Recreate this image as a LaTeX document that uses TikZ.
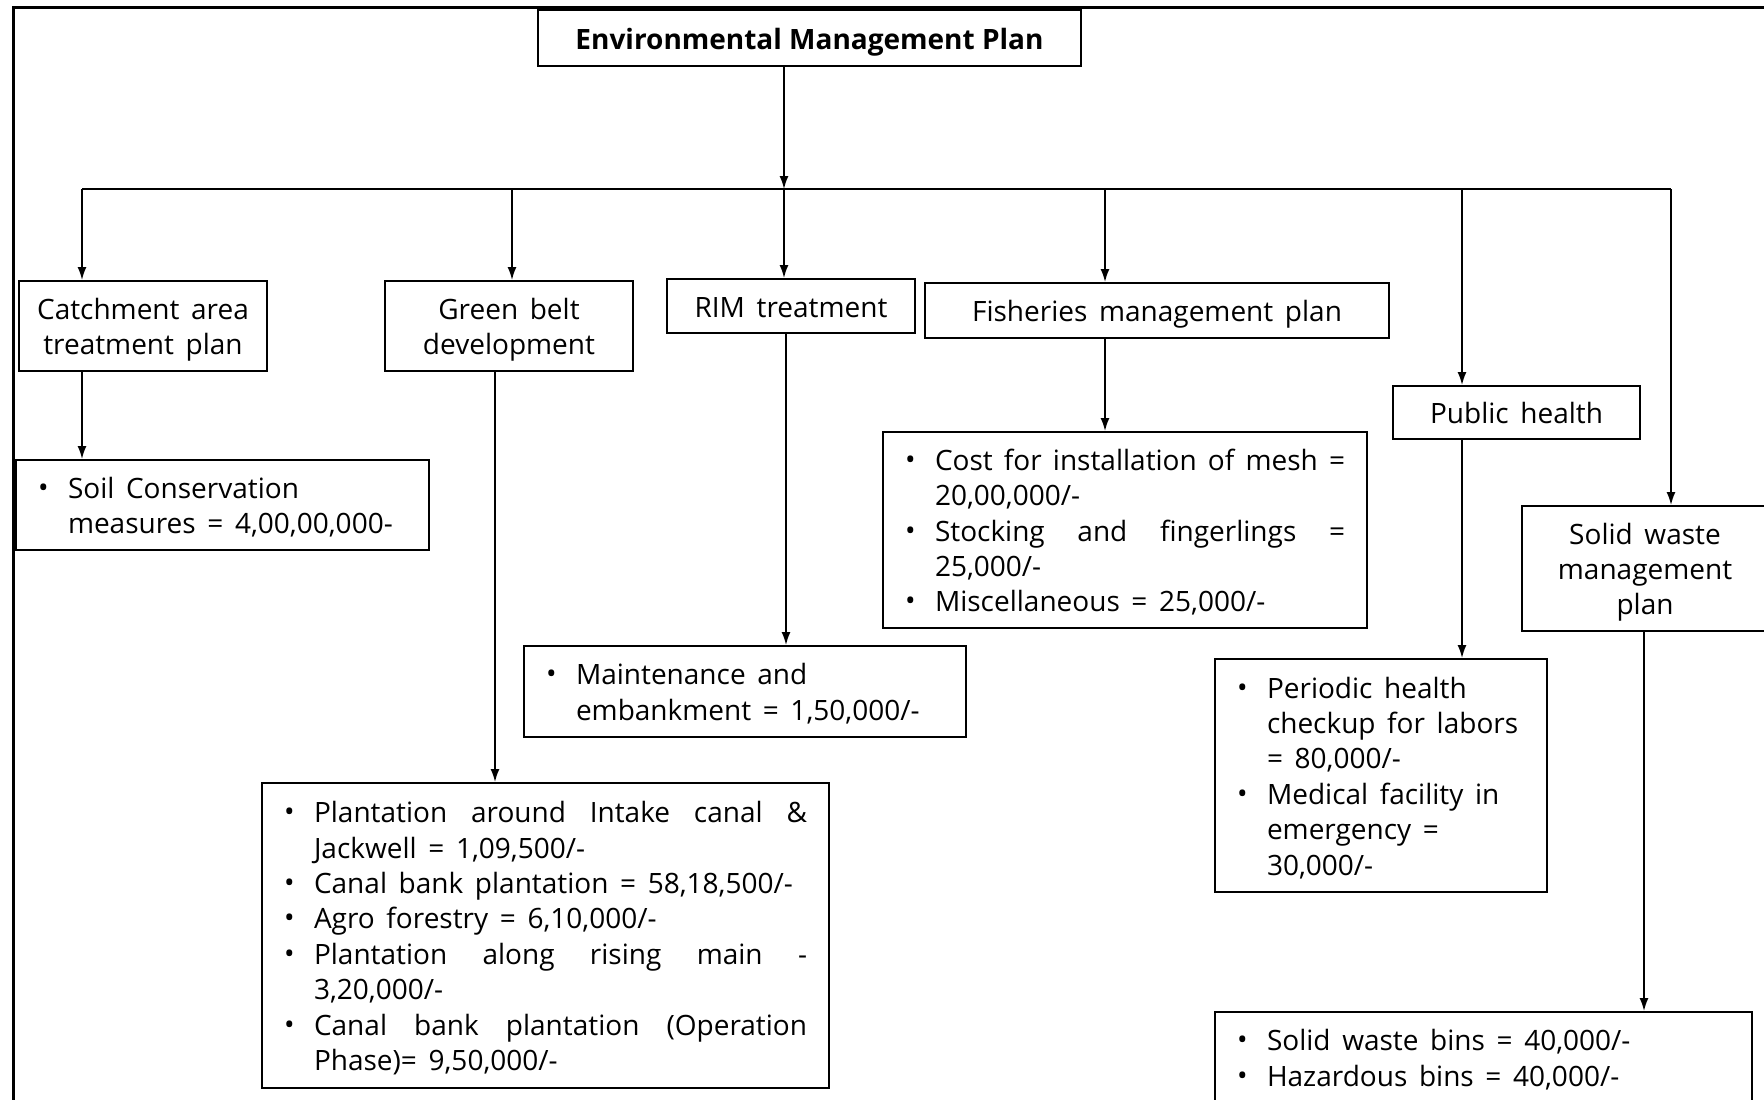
\documentclass[tikz,border=0pt]{standalone}
\usepackage{fontspec}
\setmainfont{Open Sans}[WordSpace=1.6]
\newfontfamily\titlefont{Open Sans}
\usetikzlibrary{arrows.meta}
\newcommand{\myfs}{\fontsize{28}{35.4}\selectfont}
\newcommand{\bul}{\raisebox{1pt}{\fontsize{28}{28}\selectfont\textbullet}}
\newcommand{\dn}[1]{\raisebox{0pt}[\dimexpr\height+8pt\relax]{#1}}
\newcommand{\blist}[2]{\dn{\begin{tabular}{@{}p{30pt}@{}p{#1}@{}}#2\end{tabular}}}
\newcommand{\hl}[1]{\dn{\begin{tabular}{@{}c@{}}#1\end{tabular}}}
\newcommand{\jl}[1]{\makebox[\linewidth][s]{#1}}
\newcommand{\nl}[1]{\makebox[\linewidth][l]{#1}}
\begin{document}
\begin{tikzpicture}[x=1pt,y=-1pt,
  box/.style={draw,line width=2pt,rectangle,inner sep=0pt,font=\myfs},
  arr/.style={line width=1.6pt,-{Latex[length=13pt,width=9pt]}},
  ln/.style={line width=1.6pt}]
\useasboundingbox (0,0) rectangle (1764,1100);
\clip (0,0) rectangle (1764,1100);
\draw[line width=3pt] (13,1100) -- (13,7) -- (1764,7);

% header boxes
\node[box, minimum width=543pt, minimum height=56pt, font=\myfs\titlefont\bfseries] (title) at (809.5,38) {\hl{Environmental Management Plan}};
\node[box, minimum width=248pt, minimum height=90pt] (catch) at (143,326) {\hl{Catchment area\\treatment plan}};
\node[box, minimum width=248pt, minimum height=90pt] (green) at (509,326) {\hl{Green belt\\development}};
\node[box, minimum width=248pt, minimum height=54pt] (rim) at (791,306) {\hl{RIM treatment}};
\node[box, minimum width=464pt, minimum height=55pt] (fish) at (1157,310.5) {\hl{Fisheries management plan}};
\node[box, minimum width=247pt, minimum height=53pt] (ph) at (1516.5,412.5) {\hl{Public health}};
\node[box, minimum width=246pt, minimum height=125pt] (sw) at (1645,568.5) {\hl{Solid waste\\management\\plan}};

% list boxes
\node[box, minimum width=413pt, minimum height=90pt] (soil) at (222.5,505)
  {\blist{339pt}{\bul & \nl{Soil Conservation}\\ & \nl{measures = 4,00,00,000-}}};
\node[box, minimum width=567pt, minimum height=305pt] (plant) at (545.5,935.5)
  {\blist{493pt}{\bul & \jl{Plantation around Intake canal \&}\\
   & \nl{Jackwell = 1,09,500/-}\\
   \bul & \nl{Canal bank plantation = 58,18,500/-}\\
   \bul & \nl{Agro forestry = 6,10,000/-}\\
   \bul & \jl{Plantation along rising main -}\\
   & \nl{3,20,000/-}\\
   \bul & \jl{Canal bank plantation (Operation}\\
   & \nl{Phase)= 9,50,000/-}}};
\node[box, minimum width=442pt, minimum height=91pt] (maint) at (745,691.5)
  {\blist{368pt}{\bul & \nl{Maintenance and}\\ & \nl{embankment = 1,50,000/-}}};
\node[box, minimum width=484pt, minimum height=196pt] (mesh) at (1125,530)
  {\blist{410pt}{\bul & \jl{Cost for installation of mesh =}\\
   & \nl{20,00,000/-}\\
   \bul & \jl{Stocking and fingerlings =}\\
   & \nl{25,000/-}\\
   \bul & \nl{Miscellaneous = 25,000/-}}};
\node[box, minimum width=332pt, minimum height=233pt] (peri) at (1381,775.5)
  {\blist{258pt}{\bul & \nl{Periodic health}\\ & \nl{checkup for labors}\\ & \nl{= 80,000/-}\\
   \bul & \nl{Medical facility in}\\ & \nl{emergency =}\\ & \nl{30,000/-}}};
\node[box, minimum width=537pt, minimum height=91pt] (bins) at (1483.5,1057.5)
  {\blist{463pt}{\bul & \nl{Solid waste bins = 40,000/-}\\ \bul & \nl{Hazardous bins = 40,000/-}}};

% bus and branch points
\coordinate (b1) at (82,189);
\coordinate (b2) at (512,189);
\coordinate (b3) at (784,189);
\coordinate (b4) at (1105,189);
\coordinate (b5) at (1462,189);
\coordinate (b6) at (1671,189);
\coordinate (gx) at (495,600);
\coordinate (rx) at (786,600);
\coordinate (sx) at (1644,800);

\draw[arr] (b3 |- title.south) -- (b3);
\draw[ln] (b1) -- (b6);
\draw[arr] (b1) -- (b1 |- catch.north);
\draw[arr] (b2) -- (b2 |- green.north);
\draw[arr] (b3) -- (b3 |- rim.north);
\draw[arr] (b4) -- (b4 |- fish.north);
\draw[arr] (b5) -- (b5 |- ph.north);
\draw[arr] (b6) -- (b6 |- sw.north);

\draw[arr] (b1 |- catch.south) -- (b1 |- soil.north);
\draw[arr] (gx |- green.south) -- (gx |- plant.north);
\draw[arr] (rx |- rim.south) -- (rx |- maint.north);
\draw[arr] (b4 |- fish.south) -- (b4 |- mesh.north);
\draw[arr] (b5 |- ph.south) -- (b5 |- peri.north);
\draw[arr] (sx |- sw.south) -- (sx |- bins.north);
\end{tikzpicture}
\end{document}
